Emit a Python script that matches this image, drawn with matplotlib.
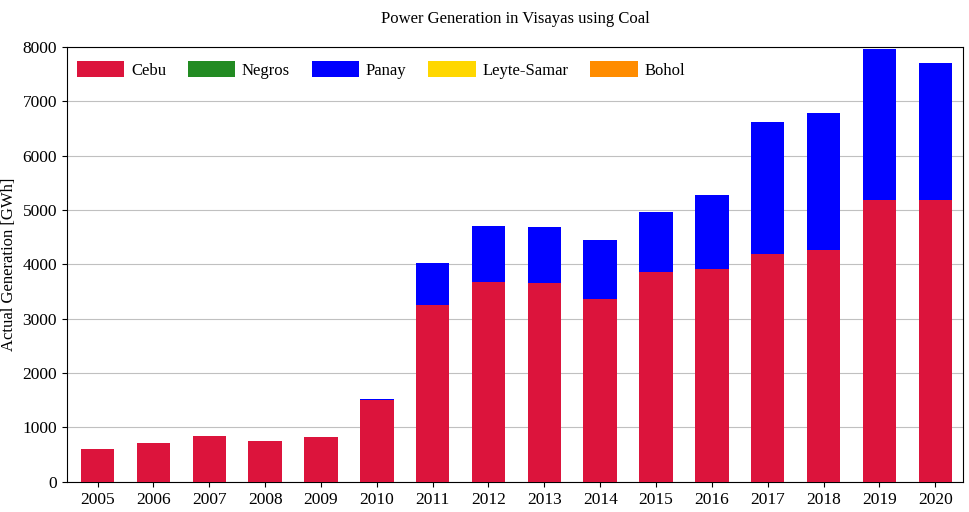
import numpy as np
import matplotlib
matplotlib.use('Agg')
import matplotlib.pyplot as plt

plt.rcParams['font.family'] = ['Liberation Serif', 'DejaVu Serif']

years = [2005, 2006, 2007, 2008, 2009, 2010, 2011, 2012,
         2013, 2014, 2015, 2016, 2017, 2018, 2019, 2020]
cebu = [607, 717, 846, 754, 827, 1510, 3254, 3676,
        3658, 3364, 3860, 3915, 4191, 4265, 5184, 5184]
negros = [0] * 16
panay = [0, 0, 0, 0, 0, 15, 772, 1030,
         1030, 1085, 1103, 1361, 2427, 2518, 2776, 2518]
leyte_samar = [0] * 16
bohol = [0] * 16

series = [('Cebu', cebu, '#dc143c'),
          ('Negros', negros, '#228b22'),
          ('Panay', panay, '#0000ff'),
          ('Leyte-Samar', leyte_samar, '#ffd700'),
          ('Bohol', bohol, '#ff8c00')]

fig, ax = plt.subplots(figsize=(9.69, 5.12), dpi=100)
x = np.arange(len(years))
bottom = np.zeros(len(years))
for name, vals, col in series:
    ax.bar(x, vals, 0.6, bottom=bottom, color=col, label=name, zorder=3)
    bottom += np.array(vals)

ax.set_xticks(x)
ax.set_xticklabels([str(y) for y in years], fontsize=12.5)
ax.tick_params(axis='y', labelsize=12.5)
ax.set_xlim(-0.55, 15.5)
ax.set_ylim(0, 8000)
ax.yaxis.grid(True, color='#c0c0c0', linewidth=0.8, zorder=0)
ax.set_ylabel('Actual Generation [GWh]', fontsize=12)
ax.set_title('Power Generation in Visayas using Coal', fontsize=12, pad=17)
ax.legend(loc='upper left', ncol=5, frameon=False, fontsize=12,
          handlelength=2.85, handleheight=1.1, handletextpad=0.4,
          columnspacing=1.3, borderaxespad=0,
          bbox_to_anchor=(0.0037, 0.983))

plt.subplots_adjust(left=0.069, right=0.994, top=0.908, bottom=0.059)
plt.savefig('out.png', dpi=100)
